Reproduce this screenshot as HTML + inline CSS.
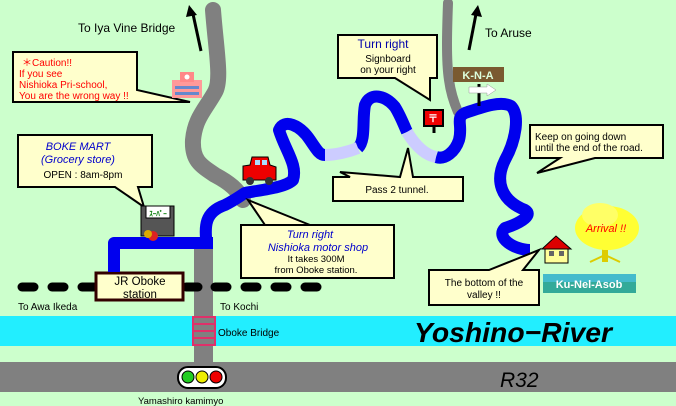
<!DOCTYPE html>
<html><head><meta charset="utf-8"><style>
body{margin:0;background:#ccffcc;}
svg{display:block;font-family:"Liberation Sans",sans-serif;}
</style></head><body>
<svg width="676" height="406" viewBox="0 0 676 406" xmlns="http://www.w3.org/2000/svg">
<rect width="676" height="406" fill="#ccffcc"/>
<rect x="0" y="316" width="676" height="30" fill="#22eeff"/>
<rect x="0" y="362" width="676" height="30" fill="#808080"/>
<rect x="194" y="240" width="19" height="124" fill="#808080"/>
<path d="M213,10 C216,50 222,80 215,92 C205,110 195,118 193,140 C192,160 200,165 215,175 C230,183 238,190 243,200" fill="none" stroke="#808080" stroke-width="16" stroke-linecap="round"/>
<path d="M448,3 C447,30 446,60 449,80 C451,95 455,105 458,112" fill="none" stroke="#808080" stroke-width="10" stroke-linecap="round"/>
<g stroke="#000" stroke-width="9" stroke-linecap="round">
<line x1="22" y1="287" x2="34" y2="287"/><line x1="52" y1="287" x2="64" y2="287"/><line x1="82" y1="287" x2="94" y2="287"/>
<line x1="186" y1="287" x2="198" y2="287"/><line x1="215" y1="287" x2="227" y2="287"/><line x1="245" y1="287" x2="257" y2="287"/><line x1="275" y1="287" x2="287" y2="287"/><line x1="305" y1="287" x2="317" y2="287"/>
</g>
<rect x="96" y="273" width="87" height="27" fill="#ffffcc" stroke="#330000" stroke-width="3"/>
<text x="140" y="285" font-size="11.5" text-anchor="middle">JR Oboke</text>
<text x="140" y="298" font-size="11.5" text-anchor="middle">station</text>
<rect x="193" y="317" width="22" height="28" fill="#808080" stroke="#e0306a" stroke-width="2"/>
<line x1="193" y1="324" x2="215" y2="324" stroke="#e0306a" stroke-width="2"/>
<line x1="193" y1="331" x2="215" y2="331" stroke="#e0306a" stroke-width="2"/>
<line x1="193" y1="338" x2="215" y2="338" stroke="#e0306a" stroke-width="2"/>
<g fill="none" stroke="#0000ee" stroke-width="12" stroke-linejoin="round">
<path d="M114,272 L114,243 L213,243"/>
<path d="M207,247 C204,225 205,212 225,205 C235,200 240,196 245,193 C260,190 285,188 293,180 C298,165 285,150 279,130 C284,118 300,125 310,140 C318,152 320,155 325,155"/>
<path d="M358,148 C366,140 362,120 365,105 C370,92 385,95 395,107 C400,115 404,125 407,132"/>
<path d="M436,157 C445,160 455,152 459,140 C463,125 455,118 465,113 C480,108 500,100 511,106 C520,115 516,140 505,160 C495,180 500,200 525,210 C535,216 515,225 505,228 C495,238 515,250 530,250"/>
</g>
<g fill="none" stroke="#ccccff" stroke-width="12">
<path d="M325,155 C335,155 348,152 358,148"/>
<path d="M407,132 C415,145 425,155 436,157"/>
</g>
<g fill="#ffffcc" stroke="#000" stroke-width="2">
<path d="M13,52 L137,52 L137,90 L190,102 L13,102 Z"/>
<path d="M18,135 L152,135 L152,187 L138,187 L144,207 L115,187 L18,187 Z"/>
<path d="M338,35 L437,35 L437,78 L430,78 L430,100 L395,78 L338,78 Z"/>
<path d="M333,177 L350,177 L340,172 L400,177 L408,148 L413,177 L463,177 L463,201 L333,201 Z"/>
<path d="M530,125 L663,125 L663,158 L595,158 L537,173 L560,158 L530,158 Z"/>
<path d="M241,225 L310,225 L248,200 L265,225 L394,225 L394,278 L241,278 Z"/>
<path d="M429,270 L489,270 L539,250 L523,270 L539,270 L539,305 L429,305 Z"/>
</g>
<g font-size="10" fill="#ff0000">
<text x="22" y="66">＊Caution!!</text>
<text x="19" y="77">If you see</text>
<text x="19" y="88">Nishioka Pri-school,</text>
<text x="19" y="99">You are the wrong way !!</text>
</g>
<text x="78" y="150" font-size="11" font-style="italic" fill="#0000cc" text-anchor="middle">BOKE MART</text>
<text x="78" y="163" font-size="11" font-style="italic" fill="#0000cc" text-anchor="middle">(Grocery store)</text>
<text x="83" y="178" font-size="10" text-anchor="middle">OPEN : 8am-8pm</text>
<text x="383" y="48" font-size="12" fill="#0000aa" text-anchor="middle">Turn right</text>
<text x="388" y="62" font-size="10" text-anchor="middle">Signboard</text>
<text x="388" y="73" font-size="10" text-anchor="middle">on your right</text>
<text x="397" y="193" font-size="10" text-anchor="middle">Pass 2 tunnel.</text>
<text x="535" y="140" font-size="10">Keep on going down</text>
<text x="535" y="151" font-size="10">until the end of the road.</text>
<text x="310" y="238" font-size="11" font-style="italic" fill="#0000cc" text-anchor="middle">Turn right</text>
<text x="318" y="251" font-size="11" font-style="italic" fill="#0000cc" text-anchor="middle">Nishioka motor shop</text>
<text x="316" y="262" font-size="9.5" text-anchor="middle">It takes 300M</text>
<text x="316" y="273" font-size="9.5" text-anchor="middle">from Oboke station.</text>
<text x="484" y="286" font-size="10" text-anchor="middle">The bottom of the</text>
<text x="484" y="298" font-size="10" text-anchor="middle">valley !!</text>
<text x="78" y="32" font-size="12">To Iya Vine Bridge</text>
<text x="485" y="37" font-size="12">To Aruse</text>
<line x1="201" y1="51" x2="193" y2="14" stroke="#000" stroke-width="3"/>
<path d="M189,5 L186,17 L197,15 Z" fill="#000"/>
<line x1="469" y1="50" x2="476" y2="14" stroke="#000" stroke-width="3"/>
<path d="M478,5 L471,15 L482,17 Z" fill="#000"/>
<text x="18" y="310" font-size="10">To Awa Ikeda</text>
<text x="220" y="310" font-size="10">To Kochi</text>
<text x="218" y="336" font-size="10">Oboke Bridge</text>
<text x="138" y="404" font-size="9.5">Yamashiro kamimyo</text>
<text x="414" y="342" font-size="28" font-style="italic" font-weight="bold" textLength="198" lengthAdjust="spacingAndGlyphs">Yoshino−River</text>
<text x="500" y="387" font-size="21" font-style="italic">R32</text>
<rect x="178" y="367" width="48" height="21" rx="10" fill="#fff" stroke="#000" stroke-width="2"/>
<circle cx="188" cy="377" r="6" fill="#22cc22" stroke="#000"/>
<circle cx="202" cy="377" r="6" fill="#eeee00" stroke="#000"/>
<circle cx="216" cy="377" r="6" fill="#ee0000" stroke="#000"/>
<rect x="453" y="67" width="51" height="15" fill="#7a5a30"/>
<text x="478" y="79" font-size="11" fill="#ddffdd" text-anchor="middle" font-weight="bold">K-N-A</text>
<line x1="479" y1="84" x2="479" y2="106" stroke="#000" stroke-width="3"/>
<path d="M469,87 L487,87 L487,84 L496,90 L487,96 L487,93 L469,93 Z" fill="#fff" stroke="#999" stroke-width="0.5"/>
<rect x="424" y="110" width="19" height="16" fill="#ee0000" stroke="#000" stroke-width="2"/>
<text x="433" y="122" font-size="10" fill="#fff" text-anchor="middle" font-weight="bold">〒</text>
<line x1="434" y1="126" x2="434" y2="133" stroke="#000" stroke-width="3"/>
<path d="M243,175 L243,166 L250,165 L252,157 L268,157 L270,165 L276,167 L276,180 L243,180 Z" fill="#ee0000" stroke="#000"/>
<rect x="255" y="160" width="5" height="5" fill="#aaddff"/><rect x="262" y="160" width="5" height="5" fill="#aaddff"/>
<circle cx="250" cy="181" r="4" fill="#333"/><circle cx="269" cy="181" r="4" fill="#333"/>
<rect x="172" y="80" width="30" height="18" fill="#ff9999"/>
<rect x="180" y="72" width="14" height="10" fill="#ff8888"/>
<circle cx="187" cy="77" r="2.5" fill="#fff"/>
<rect x="175" y="86" width="24" height="3" fill="#6688cc"/><rect x="175" y="92" width="24" height="3" fill="#6688cc"/>
<rect x="141" y="206" width="33" height="30" fill="#555" stroke="#000"/>
<rect x="146" y="206" width="24" height="12" fill="#fff" stroke="#000"/>
<text x="158" y="216" font-size="7" fill="#007700" text-anchor="middle" font-weight="bold">ｽｰﾊﾟｰ</text>
<circle cx="153" cy="236" r="5" fill="#dd2222"/><circle cx="148" cy="234" r="4" fill="#ddaa00"/>
<rect x="602" y="240" width="6" height="22" fill="#ddcc00"/>
<path d="M590,262 L605,255 L620,262" stroke="#ddcc00" fill="none" stroke-width="2"/>
<ellipse cx="607" cy="228" rx="32" ry="22" fill="#ffff33"/>
<ellipse cx="600" cy="215" rx="18" ry="12" fill="#ffff66"/>
<text x="606" y="232" font-size="11" font-style="italic" fill="#ff0000" text-anchor="middle">Arrival !!</text>
<rect x="545" y="247" width="23" height="16" fill="#ffff99" stroke="#000"/>
<path d="M542,249 L556,236 L571,249 Z" fill="#dd0000" stroke="#000"/>
<rect x="549" y="251" width="5" height="5" fill="#666"/><rect x="559" y="251" width="5" height="5" fill="#666"/>
<rect x="543" y="274" width="93" height="19" fill="#33aa99"/>
<rect x="543" y="274" width="93" height="8" fill="#44bbcc"/>
<text x="589" y="288" font-size="11" fill="#fff" text-anchor="middle" font-weight="bold">Ku-Nel-Asob</text>
</svg>
</body></html>
